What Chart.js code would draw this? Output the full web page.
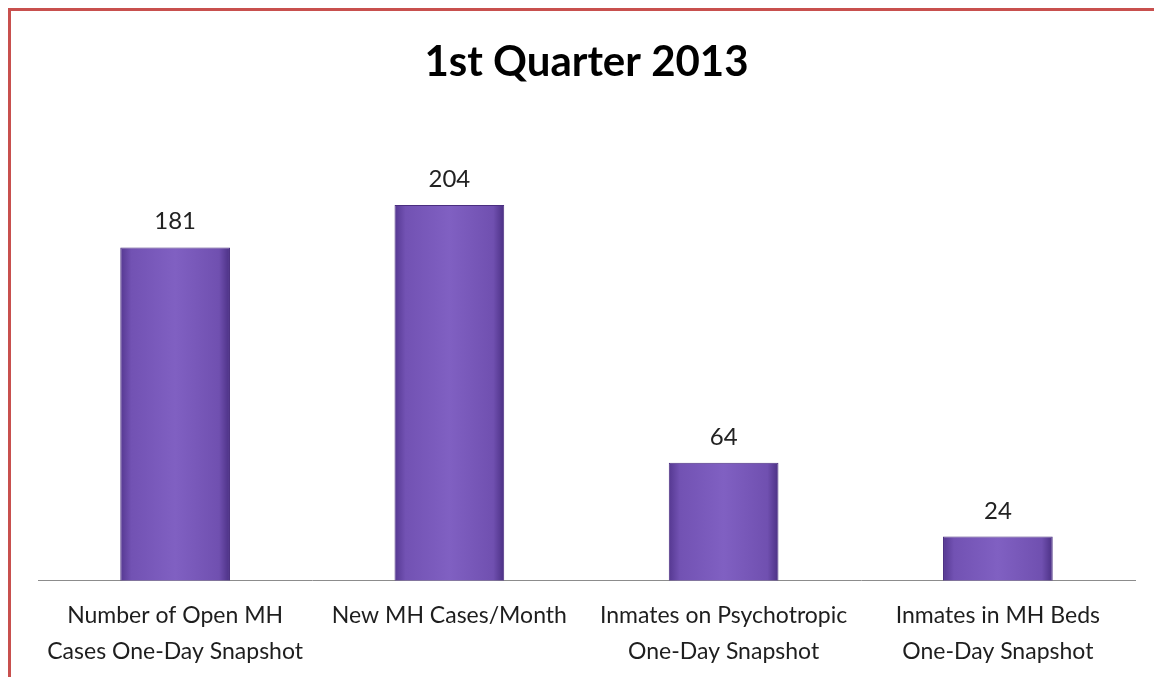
<!DOCTYPE html>
<html>
<head>
<meta charset="utf-8">
<script src="https://cdn.jsdelivr.net/npm/chart.js@4.4.1/dist/chart.umd.min.js"></script>
<style>
  html, body { margin: 0; padding: 0; background: #fff; overflow: hidden; }
  #wrap { position: relative; width: 1154px; height: 677px; overflow: hidden; }
  #frame {
    position: absolute; left: 8px; top: 8px; width: 1200px; height: 720px;
    border-left: 3px solid #c8504e; border-top: 3px solid #c8504e;
  }
  canvas { position: absolute; left: 0; top: 0; }
</style>
</head>
<body>
<div id="wrap">
  <div id="frame"></div>
  <canvas id="chart" width="1154" height="686"></canvas>
</div>
<script>
const categories = [
  ['Number of Open MH', 'Cases One-Day Snapshot'],
  ['New MH Cases/Month'],
  ['Inmates on Psychotropic', 'One-Day Snapshot'],
  ['Inmates in MH Beds', 'One-Day Snapshot']
];
const counts = [181, 204, 64, 24];
const yMax = 250;

const FONT = 'Lato, "Open Sans", sans-serif';
const BAR_PCT = 0.4;

// horizontal shading across each bar, darker toward the edges
function barFill(ctx) {
  const chart = ctx.chart;
  const xs = chart.scales.x;
  if (!chart.chartArea || !xs) return '#7456b4';
  const cx = xs.getPixelForValue(ctx.dataIndex);
  const w = (chart.chartArea.width / categories.length) * BAR_PCT;
  const left = cx - w / 2;
  const g = chart.ctx.createLinearGradient(left, 0, left + w, 0);
  g.addColorStop(0, '#553891');
  g.addColorStop(0.1, '#7252b3');
  g.addColorStop(0.5, '#8060c2');
  g.addColorStop(0.9, '#7050b0');
  g.addColorStop(1, '#4b3084');
  return g;
}

// value text above each bar
const valueLabels = {
  id: 'valueLabels',
  afterDatasetsDraw(chart) {
    const c = chart.ctx;
    c.save();
    c.font = '24px ' + FONT;
    c.fillStyle = '#222';
    c.textAlign = 'center';
    c.textBaseline = 'alphabetic';
    chart.getDatasetMeta(0).data.forEach((bar, i) => {
      c.fillText(String(counts[i]), bar.x, bar.y - 18);
    });
    c.restore();
  }
};

new Chart(document.getElementById('chart'), {
  type: 'bar',
  data: {
    labels: categories,
    datasets: [{
      data: counts,
      backgroundColor: barFill,
      borderColor: '#4a2e80',
      borderWidth: 1,
      borderSkipped: 'bottom',
      categoryPercentage: 1,
      barPercentage: BAR_PCT
    }]
  },
  options: {
    responsive: false,
    animation: false,
    layout: { padding: { top: 37, left: 38, right: 19, bottom: 0 } },
    plugins: {
      legend: { display: false },
      tooltip: { enabled: false },
      title: {
        display: true,
        text: '1st Quarter 2013',
        color: '#000',
        font: { family: FONT, size: 42, weight: 'bold', lineHeight: 1.2 },
        padding: { top: 0, bottom: 33 }
      }
    },
    scales: {
      x: {
        grid: { display: false, drawTicks: false },
        border: { display: true, color: '#8c8c8c', width: 1 },
        ticks: {
          color: '#1e1e1e',
          font: { family: FONT, size: 23, lineHeight: 1.55 },
          padding: 17,
          maxRotation: 0,
          autoSkip: false
        }
      },
      y: {
        display: false,
        min: 0,
        max: yMax
      }
    }
  },
  plugins: [valueLabels]
});
</script>
</body>
</html>
